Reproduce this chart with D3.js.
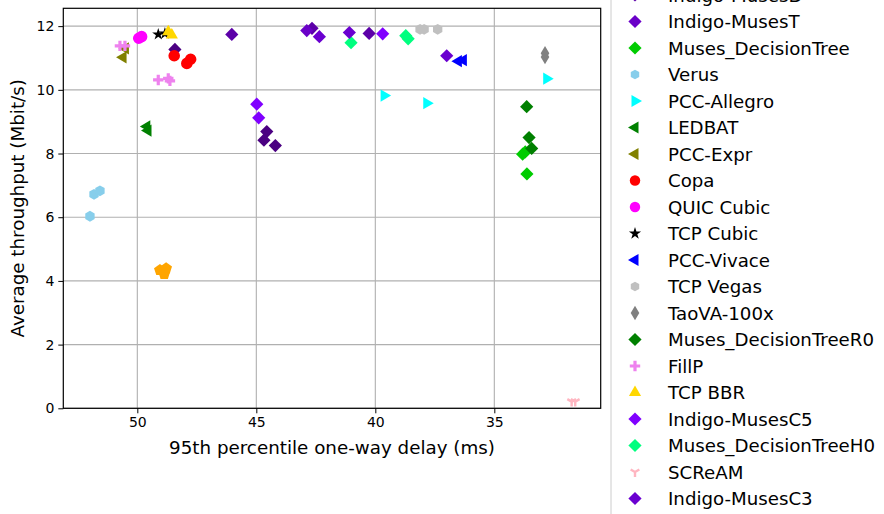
<!DOCTYPE html>
<html>
<head>
<meta charset="utf-8">
<script src="https://cdn.jsdelivr.net/npm/d3@7"></script>
<style>
  html, body { margin: 0; padding: 0; background: #fff; overflow: hidden; }
  svg { display: block; font-family: "DejaVu Sans", sans-serif; }
</style>
</head>
<body>
<svg id="chart" width="884" height="514"></svg>
<script>
// Scheme names in legend order
const schemes = [
  "WebRTC media", "Indigo", "Indigo-MusesD", "Indigo-MusesT", "Muses_DecisionTree",
  "Verus", "PCC-Allegro", "LEDBAT", "PCC-Expr", "Copa", "QUIC Cubic", "TCP Cubic",
  "PCC-Vivace", "TCP Vegas", "TaoVA-100x", "Muses_DecisionTreeR0", "FillP", "TCP BBR",
  "Indigo-MusesC5", "Muses_DecisionTreeH0", "SCReAM", "Indigo-MusesC3"
];
const colors = [
  "#ffa500", "#4b0082", "#5c00a8", "#6a00c8", "#00cc00",
  "#87ceeb", "#00ffff", "#008000", "#808000", "#ff0000", "#ff00ff", "#000000",
  "#0000ff", "#c0c0c0", "#808080", "#008000", "#ee82ee", "#ffd700",
  "#8000ff", "#00ff7f", "#ffb6c1", "#6a00d0"
];
const markers = [
  "p", "D", "D", "D", "D",
  "h", ">", "<", "<", "o", "o", "*",
  "<", "h", "d", "D", "P", "^",
  "D", "D", "1", "D"
];

// Per-run 95th percentile one-way delay (ms)
const delays = [
  [49.05, 48.79, 48.87],
  [48.42, 44.56, 44.68, 44.20],
  [46.03, 42.66, 40.26],
  [42.88],
  [33.81, 33.70, 33.63],
  [51.99, 51.82, 51.57],
  [39.63, 37.84, 32.80],
  [49.60, 49.55],
  [50.60, 50.50],
  [48.45, 47.92, 47.76],
  [49.94, 49.82],
  [49.12, 48.84],
  [36.51, 36.30],
  [38.12, 37.95, 37.38],
  [32.87, 32.87],
  [33.64, 33.54, 33.43],
  [50.73, 50.52, 49.12, 48.70, 48.63],
  [48.70, 48.55],
  [44.98, 44.90, 39.69],
  [41.02, 38.72, 38.62],
  [31.75, 31.60],
  [42.35, 41.09, 37.00]
];
// Per-run average throughput (Mbit/s)
const throughputs = [
  [4.34, 4.39, 4.22],
  [11.27, 8.69, 8.42, 8.25],
  [11.74, 11.93, 11.77],
  [11.86],
  [7.98, 8.05, 7.36],
  [6.03, 6.72, 6.83],
  [9.82, 9.58, 10.35],
  [8.85, 8.72],
  [11.02, 11.30],
  [11.07, 10.83, 10.96],
  [11.62, 11.67],
  [11.74, 11.77],
  [10.90, 10.93],
  [11.90, 11.90, 11.90],
  [11.15, 11.03],
  [9.47, 8.50, 8.16],
  [11.38, 11.38, 10.31, 10.36, 10.28],
  [11.82, 11.72],
  [9.55, 9.12, 11.76],
  [11.48, 11.70, 11.60],
  [0.21, 0.21],
  [11.67, 11.80, 11.07]
];

const xTicks = [50, 45, 40, 35];
const yTicks = [0, 2, 4, 6, 8, 10, 12];
const xLabel = "95th percentile one-way delay (ms)";
const yLabel = "Average throughput (Mbit/s)";

// ---- layout ----
const plot = { left: 63.3, right: 600.7, top: 8.3, bottom: 408.3 };
const svg = d3.select("#chart");

const x = d3.scaleLinear().domain([53.11, 30.53]).range([plot.left, plot.right]);
const y = d3.scaleLinear().domain([0, 12.56]).range([plot.bottom, plot.top]);

// ---- marker shapes ----
function markerPath(m, s) {
  const p = d3.path();
  if (m === "D") {
    const r = 6.6 * s;
    p.moveTo(0, -r); p.lineTo(r, 0); p.lineTo(0, r); p.lineTo(-r, 0); p.closePath();
  } else if (m === "d") {
    const r = 7.2 * s, w = 4.3 * s;
    p.moveTo(0, -r); p.lineTo(w, 0); p.lineTo(0, r); p.lineTo(-w, 0); p.closePath();
  } else if (m === "o") {
    const r = 5.8 * s;
    p.arc(0, 0, r, 0, 2 * Math.PI);
  } else if (m === "h") {
    const r = 5.4 * s;
    for (let i = 0; i < 6; i++) {
      const a = Math.PI / 2 + i * Math.PI / 3;
      const px = r * Math.cos(a), py = r * Math.sin(a);
      if (i === 0) p.moveTo(px, py); else p.lineTo(px, py);
    }
    p.closePath();
  } else if (m === "p") {
    const r = 6.2 * s;
    for (let i = 0; i < 5; i++) {
      const a = -Math.PI / 2 + i * 2 * Math.PI / 5;
      const px = r * Math.cos(a), py = r * Math.sin(a);
      if (i === 0) p.moveTo(px, py); else p.lineTo(px, py);
    }
    p.closePath();
  } else if (m === "^" || m === ">" || m === "<") {
    const r = 7 * s;
    const pts = [[0, -r], [-r * 0.87, r * 0.5], [r * 0.87, r * 0.5]];
    const rot = m === "^" ? 0 : (m === ">" ? Math.PI / 2 : -Math.PI / 2);
    pts.forEach((q, i) => {
      const px = q[0] * Math.cos(rot) - q[1] * Math.sin(rot);
      const py = q[0] * Math.sin(rot) + q[1] * Math.cos(rot);
      if (i === 0) p.moveTo(px, py); else p.lineTo(px, py);
    });
    p.closePath();
  } else if (m === "*") {
    return d3.symbol().type(d3.symbolStar).size(46 * s * s)();
  } else if (m === "P") {
    const r = 5.2 * s, t = 1.6 * s;
    p.moveTo(-t, -r); p.lineTo(t, -r); p.lineTo(t, -t); p.lineTo(r, -t);
    p.lineTo(r, t); p.lineTo(t, t); p.lineTo(t, r); p.lineTo(-t, r);
    p.lineTo(-t, t); p.lineTo(-r, t); p.lineTo(-r, -t); p.lineTo(-t, -t); p.closePath();
  } else if (m === "1") {
    const r = 5 * s;
    p.moveTo(0, 0); p.lineTo(0, r);
    p.moveTo(0, 0); p.lineTo(-r * 0.87, -r * 0.5);
    p.moveTo(0, 0); p.lineTo(r * 0.87, -r * 0.5);
  }
  return p.toString();
}
function styleMarker(sel, m, c) {
  if (m === "1") sel.attr("fill", "none").attr("stroke", c).attr("stroke-width", 2.4);
  else sel.attr("fill", c).attr("stroke", "none");
}

// ---- grid ----
const grid = svg.append("g").attr("stroke", "#b0b0b0").attr("stroke-width", 1.1);
grid.selectAll(".gx").data(xTicks).join("line")
  .attr("x1", d => x(d)).attr("x2", d => x(d))
  .attr("y1", plot.top).attr("y2", plot.bottom);
grid.selectAll(".gy").data(yTicks).join("line")
  .attr("x1", plot.left).attr("x2", plot.right)
  .attr("y1", d => y(d)).attr("y2", d => y(d));

// ---- points ----
const pts = svg.append("g");
schemes.forEach((name, i) => {
  const data = delays[i].map((d, j) => ({ d, t: throughputs[i][j] }));
  const sel = pts.append("g").selectAll("path").data(data).join("path")
    .attr("transform", v => `translate(${x(v.d)},${y(v.t)})`)
    .attr("d", markerPath(markers[i], 1));
  styleMarker(sel, markers[i], colors[i]);
});

// ---- axes ----
const xAxis = svg.append("g")
  .attr("transform", `translate(0,${plot.bottom})`)
  .call(d3.axisBottom(x).tickValues(xTicks).tickSize(5).tickPadding(4).tickFormat(d3.format("d")));
const yAxis = svg.append("g")
  .attr("transform", `translate(${plot.left},0)`)
  .call(d3.axisLeft(y).tickValues(yTicks).tickSize(5).tickPadding(4).tickFormat(d3.format("d")));
[xAxis, yAxis].forEach(a => {
  a.select(".domain").remove();
  a.selectAll(".tick line").attr("stroke", "#000").attr("stroke-width", 1);
  a.selectAll(".tick text").attr("font-size", 14).attr("fill", "#000")
    .attr("font-family", "DejaVu Sans, sans-serif");
});

// frame
svg.append("rect")
  .attr("x", plot.left).attr("y", plot.top)
  .attr("width", plot.right - plot.left).attr("height", plot.bottom - plot.top)
  .attr("fill", "none").attr("stroke", "#000").attr("stroke-width", 1.2);

// axis titles
svg.append("text")
  .attr("x", (plot.left + plot.right) / 2).attr("y", 454)
  .attr("text-anchor", "middle").attr("font-size", 18.3).attr("fill", "#000")
  .text(xLabel);
svg.append("text")
  .attr("transform", `translate(24,${(plot.top + plot.bottom) / 2}) rotate(-90)`)
  .attr("text-anchor", "middle").attr("font-size", 18.3).attr("fill", "#000")
  .text(yLabel);

// ---- legend (taller than the figure, so its ends run past the edges) ----
const legX = 611, rowH = 26.5;
const firstRowY = 21.5 - 3 * rowH; // row of the first scheme
const leg = svg.append("g");
leg.append("rect")
  .attr("x", legX).attr("y", firstRowY - 20)
  .attr("width", 400).attr("height", rowH * schemes.length + 40)
  .attr("rx", 4)
  .attr("fill", "#fff").attr("fill-opacity", 0.8)
  .attr("stroke", "#cccccc").attr("stroke-width", 1);
schemes.forEach((name, i) => {
  const cy = firstRowY + i * rowH;
  const g = leg.append("g").attr("transform", `translate(0,${cy})`);
  const mk = g.append("path")
    .attr("transform", `translate(${legX + 24},0)`)
    .attr("d", markerPath(markers[i], markers[i] === "h" || markers[i] === "o" ? 0.9 : 1));
  styleMarker(mk, markers[i], colors[i]);
  g.append("text")
    .attr("x", legX + 57).attr("dy", "0.36em")
    .attr("font-size", 18.2).attr("fill", "#000")
    .text(name);
});
</script>
</body>
</html>
